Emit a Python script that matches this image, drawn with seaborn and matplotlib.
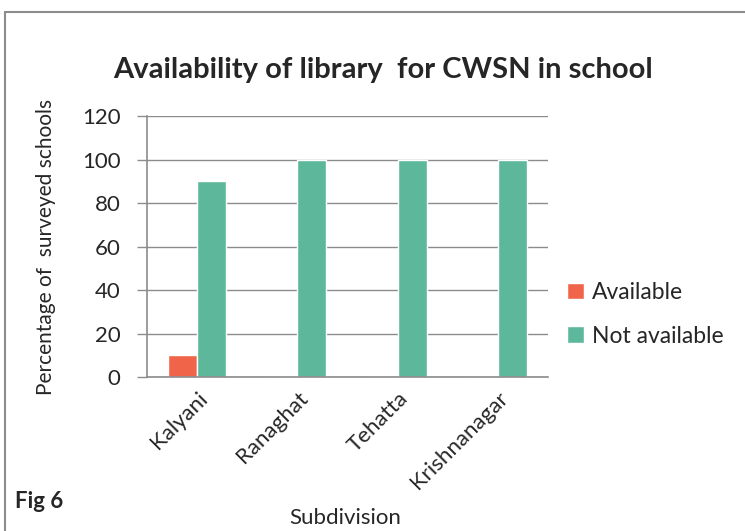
import pandas as pd
import matplotlib.pyplot as plt
import matplotlib.patches as mpatches
import seaborn as sns

# Dados do gráfico
subdivisions = ['Kalyani', 'Ranaghat', 'Tehatta', 'Krishnanagar']
available = [10, 0, 0, 0]
not_available = [90, 100, 100, 100]

sns.set_theme(style='white')
plt.rcParams['font.family'] = ['Lato', 'DejaVu Sans']

df = pd.DataFrame({
    'Subdivision': subdivisions * 2,
    'Percent': available + not_available,
    'Status': ['Available'] * 4 + ['Not available'] * 4,
})

fig = plt.figure(figsize=(7.45, 5.31), dpi=100)
ax = fig.add_axes([0.197, 0.290, 0.539, 0.4915])

palette = {'Available': '#F0654A', 'Not available': '#5DB89B'}
sns.barplot(data=df, x='Subdivision', y='Percent', hue='Status',
            palette=palette, width=0.58, saturation=1, ax=ax)

ax.set_ylim(0, 120)
ax.set_yticks(range(0, 121, 20))
ax.yaxis.grid(True, color='#8c8c8c', linewidth=1)
ax.set_axisbelow(True)
for s in ['top', 'right']:
    ax.spines[s].set_visible(False)
for s in ['left', 'bottom']:
    ax.spines[s].set_color('#8c8c8c')
    ax.spines[s].set_linewidth(1.2)
ax.tick_params(axis='y', which='both', left=True, length=7, width=1,
               color='#8c8c8c', labelsize=16, pad=12)
ax.tick_params(axis='x', bottom=False, labelsize=16, pad=2)
plt.setp(ax.get_xticklabels(), rotation=45, ha='right', rotation_mode='anchor')

ax.set_xlabel('')
ax.set_ylabel('Percentage of  surveyed schools', fontsize=15)
ax.yaxis.set_label_coords(-0.225, 0.5)

ax.legend(loc='center left', bbox_to_anchor=(0.995, 0.24), frameon=False,
          fontsize=16.5, handlelength=0.75, handleheight=0.75, handletextpad=0.35,
          labelspacing=1.0)

fig.text(0.514, 0.868, 'Availability of library  for CWSN in school',
         ha='center', va='center', fontsize=21, fontweight='bold')
fig.text(0.463, 0.025, 'Subdivision', ha='center', va='center', fontsize=16)
fig.text(0.02, 0.055, 'Fig 6', ha='left', va='center', fontsize=16, fontweight='bold')

# Moldura do gráfico
fig.patches.append(mpatches.Rectangle((0.007, -0.05), 1.2, 1.027,
                                      transform=fig.transFigure, fill=False,
                                      edgecolor='#8c8c8c', linewidth=1.5))

fig.savefig('out.png', dpi=100)
